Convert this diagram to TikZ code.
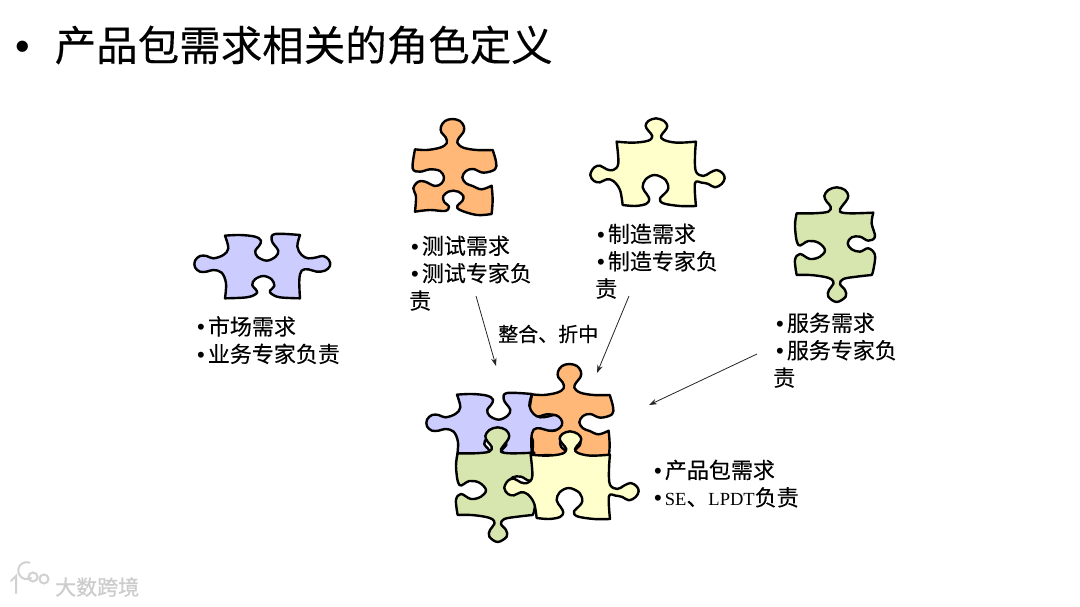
\documentclass[tikz,border=0pt]{standalone}
\usepackage{fontspec}
\usetikzlibrary{arrows.meta}
\setmainfont{Noto Sans CJK SC}[FakeBold=0.2]
\newfontfamily\latf{Liberation Sans}
\newfontfamily\serf{Liberation Serif}
\newfontfamily\wmf{Noto Sans CJK SC}[FakeBold=0.6]
\definecolor{porange}{HTML}{FFB877}
\definecolor{pyellow}{HTML}{FFFFCC}
\definecolor{pblue}{HTML}{CCCCFF}
\definecolor{pgreen}{HTML}{D6E6AE}
\newcommand{\bu}{{\latf •}\kern3pt}
\tikzset{
  piece/.style={draw=black,line width=2.4pt,line join=round},
  sm/.style={smooth,tension=.6},
  lab/.style={anchor=north west,inner sep=0pt,align=left,text=black,font=\fontsize{22}{27.4}\selectfont},
  conn/.style={line width=.8pt,draw=black!85,-{Stealth[length=8pt,width=5.5pt]}},
  wm/.style={draw=black!18,line width=2pt,line cap=round}
}
\newcommand{\orangepiece}[2]{\begin{scope}[shift={(400+#1,100+#2)},scale=.3333]
\path[piece,fill=porange]
 plot[sm] coordinates {(45,148)(80,150)(120,143)(140,130)(137,112)(124,97)(123,80)(135,63)(157,57)(180,63)(192,80)(190,97)(178,112)(172,128)(190,143)(230,150)(278,150)}
 -- plot[sm] coordinates {(278,150)(288,185)(285,208)(250,218)(220,207)(198,213)(187,232)(198,250)(218,258)(245,268)(275,257)}
 -- plot[sm] coordinates {(275,257)(278,300)(275,342)}
 -- plot[sm] coordinates {(275,342)(230,345)(180,330)(172,318)(187,303)(190,288)(175,275)(160,272)(145,275)(130,288)(132,305)(147,320)(135,333)(90,330)(45,335)}
 -- plot[sm] coordinates {(45,335)(48,290)(40,265)(55,245)(75,245)(105,258)(125,250)(132,232)(120,213)(90,208)(60,215)(38,205)(45,148)} -- cycle;
\end{scope}}
\newcommand{\yellowpiece}[2]{\begin{scope}[shift={(400+#1,100+#2)},scale=.3333]
\path[piece,fill=pyellow]
 plot[sm] coordinates {(650,125)(700,128)(745,122)(757,108)(745,92)(737,78)(745,63)(768,55)(792,63)(802,78)(795,92)(783,108)(792,120)(830,128)(888,125)}
 -- plot[sm] coordinates {(888,125)(885,170)(888,215)(910,228)(930,218)(950,210)(968,220)(974,235)(965,252)(945,262)(925,252)(905,248)(885,250)(888,318)}
 -- plot[sm] coordinates {(888,318)(840,318)(790,310)(780,296)(795,280)(805,265)(797,240)(765,225)(737,238)(728,262)(740,282)(748,298)(738,312)(705,318)(668,315)}
 -- plot[sm] coordinates {(668,315)(660,270)(640,243)(620,238)(600,247)(582,243)(571,225)(582,203)(600,197)(620,208)(640,210)(655,190)(650,125)} -- cycle;
\end{scope}}
\newcommand{\bluepiece}[2]{\begin{scope}[shift={(180+#1,220+#2)},scale=.3333]
\path[piece,fill=pblue]
 plot[sm] coordinates {(135,47)(180,45)(225,50)(243,62)(237,78)(226,92)(232,110)(260,122)(287,110)(295,92)(283,75)(275,60)(285,42)(360,45)}
 -- plot[sm] coordinates {(360,45)(352,80)(365,105)(385,115)(410,112)(430,108)(447,120)(450,138)(435,152)(410,155)(385,148)(365,152)(358,180)(360,235)}
 -- plot[sm] coordinates {(360,235)(300,232)(275,222)(270,212)(283,198)(275,178)(250,168)(225,178)(217,195)(230,212)(228,222)(200,232)(135,235)}
 -- plot[sm] coordinates {(135,235)(138,190)(125,158)(100,150)(80,155)(60,155)(45,142)(45,122)(60,108)(80,108)(100,115)(130,105)(145,85)(135,47)} -- cycle;
\end{scope}}
\newcommand{\greenpiece}[2]{\begin{scope}[shift={(780+#1,180+#2)},scale=.3333]
\path[piece,fill=pgreen]
 plot[sm] coordinates {(50,100)(100,100)(145,95)(152,80)(140,65)(133,48)(145,30)(170,22)(195,30)(205,48)(197,65)(185,80)(180,95)(210,100)(280,98)}
 -- plot[sm] coordinates {(280,98)(275,130)(285,170)(265,182)(240,170)(215,172)(203,190)(215,208)(240,215)(265,205)(285,225)(280,270)(275,285)}
 -- plot[sm] coordinates {(275,285)(230,290)(190,297)(180,312)(195,330)(197,350)(170,366)(145,350)(147,330)(160,312)(155,298)(130,290)(90,285)(50,285)}
 -- plot[sm] coordinates {(50,285)(45,240)(60,222)(90,237)(120,230)(135,210)(115,188)(85,183)(55,195)(45,140)(50,100)} -- cycle;
\end{scope}}
\begin{document}
\begin{tikzpicture}[x=1pt,y=-1pt]
\useasboundingbox (0,0) rectangle (1080,607);
\fill[white] (0,0) rectangle (1080,607);
% title
\node[anchor=west,inner sep=0pt,font=\fontsize{41.5}{44}\selectfont] (title) at (15,45) {{\latf •}\kern25pt 产品包需求相关的角色定义};
% single pieces
\orangepiece{0}{0}
\yellowpiece{0}{0}
\bluepiece{0}{0}
\greenpiece{0}{0}
% assembled pieces
\orangepiece{117}{245}
\bluepiece{232}{159}
\greenpiece{-339}{240}
\yellowpiece{-86}{313}
% labels
\node[lab] (mkt) at (197,316) {\bu 市场需求\\\bu 业务专家负责};
\node[lab] (test) at (411,235.5) {\bu 测试需求\\\bu 测试专家负\\\kern-2pt 责};
\node[lab] (mfg) at (597,223.5) {\bu 制造需求\\\bu 制造专家负\\\kern-2pt 责};
\node[lab] (svc) at (776,312.5) {\bu 服务需求\\\bu 服务专家负\\\kern-3pt 责};
\node[lab] (pkg) at (654,459.5) {\bu 产品包需求\\\bu {\serf\fontsize{18.5}{27.4}\selectfont SE}、{\serf\fontsize{18.5}{27.4}\selectfont LPDT}负责};
\node[anchor=west,inner sep=0pt,font=\fontsize{20}{24}\selectfont,text=black] (merge) at (498,334) {整合、折中};
% connectors
\coordinate (a1s) at (476,296); \coordinate (a1e) at (496,366);
\coordinate (a2s) at (629,296); \coordinate (a2e) at (597,373);
\coordinate (a3s) at (757,354); \coordinate (a3e) at (649,405);
\draw[conn] (a1s) -- (a1e);
\draw[conn] (a2s) -- (a2e);
\draw[conn] (a3s) -- (a3e);
% watermark
\node[anchor=west,inner sep=0pt,font=\wmf\fontsize{21}{24}\selectfont,text=black!20] (wm) at (55,587) {大数跨境};
\draw[wm] (11,581) -- (16,576) -- (16,593);
\draw[wm] (31,578) arc (60:290:8.5);
\draw[wm] (33,577) circle (4.5);
\draw[wm] (44,579) circle (4.5);
\end{tikzpicture}
\end{document}
